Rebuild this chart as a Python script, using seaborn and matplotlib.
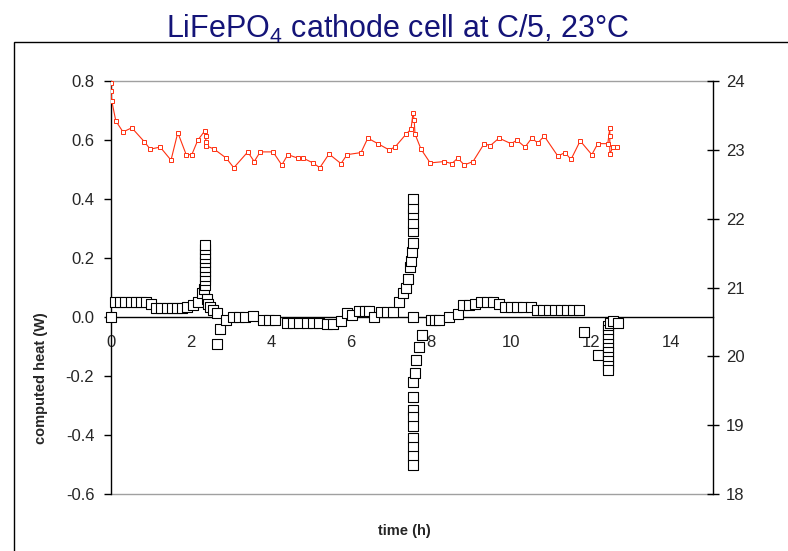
import matplotlib
matplotlib.use("Agg")
import matplotlib.pyplot as plt
import seaborn as sns
import numpy as np
from matplotlib.patches import Rectangle

# ---------------- data ----------------
heat_t = [0.0, 0.1, 0.23, 0.36, 0.49, 0.62, 0.75, 0.88, 1.0, 1.13, 1.26, 1.39, 1.52, 1.65, 1.78, 1.9,
          2.05, 2.17, 2.27,
          2.33, 2.34, 2.34, 2.35, 2.35, 2.35, 2.35, 2.36, 2.36, 2.36, 2.36,
          2.4, 2.43, 2.47, 2.55, 2.65, 2.65, 2.72,
          2.87, 3.05, 3.2, 3.35, 3.55, 3.8, 3.95, 4.1, 4.4, 4.55, 4.7, 4.9, 5.05, 5.2, 5.4, 5.55,
          5.75, 5.9, 6.03, 6.2, 6.35, 6.45, 6.57, 6.75, 6.9, 7.05,
          7.2, 7.3, 7.37, 7.43, 7.48, 7.5, 7.52, 7.55, 7.55, 7.55, 7.55, 7.55,
          7.55,
          7.55, 7.55, 7.55, 7.55, 7.55, 7.55, 7.55, 7.55, 7.55, 7.55,
          7.6, 7.63, 7.7, 7.78,
          8.0, 8.1, 8.2, 8.45, 8.67, 8.8, 8.95, 9.1, 9.25, 9.4, 9.55, 9.7,
          9.85, 10.0, 10.15, 10.3, 10.5,
          10.65, 10.8, 10.95, 11.1, 11.25, 11.4, 11.55, 11.7,
          11.83, 12.17,
          12.42, 12.42, 12.42, 12.42, 12.42, 12.42, 12.42, 12.42, 12.42, 12.42, 12.42,
          12.47, 12.55, 12.67]
heat_q = [0.0, 0.05, 0.05, 0.05, 0.05, 0.05, 0.05, 0.05, 0.045, 0.03, 0.03, 0.03, 0.03, 0.03, 0.03, 0.035,
          0.04, 0.05, 0.08,
          0.095, 0.11, 0.125, 0.14, 0.155, 0.17, 0.185, 0.2, 0.215, 0.23, 0.245,
          0.06, 0.045, 0.035, 0.025, 0.015, -0.09, -0.04,
          -0.01, 0.0, 0.0, 0.0, 0.005, -0.01, -0.01, -0.01, -0.02, -0.02, -0.02, -0.02, -0.02, -0.02, -0.025, -0.025,
          -0.015, 0.013, 0.007, 0.02, 0.02, 0.02, 0.0, 0.017, 0.017, 0.017,
          0.05, 0.08, 0.1, 0.13, 0.17, 0.19, 0.22, 0.25, 0.29, 0.32, 0.35, 0.37,
          0.40,
          0.0, -0.22, -0.27, -0.315, -0.34, -0.37, -0.41, -0.44, -0.47, -0.50,
          -0.19, -0.145, -0.10, -0.06,
          -0.01, -0.01, -0.01, 0.0, 0.01, 0.04, 0.04, 0.045, 0.05, 0.05, 0.05, 0.045,
          0.035, 0.035, 0.035, 0.035, 0.035,
          0.025, 0.025, 0.025, 0.025, 0.025, 0.025, 0.025, 0.025,
          -0.05, -0.13,
          -0.03, -0.045, -0.06, -0.075, -0.09, -0.105, -0.12, -0.135, -0.15, -0.165, -0.18,
          -0.02, -0.015, -0.02]

temp_t = [0.0, 0.0, 0.02, 0.12, 0.3, 0.52, 0.83, 0.98, 1.23, 1.5, 1.67, 1.88, 2.02, 2.17,
          2.35, 2.37, 2.37, 2.38, 2.58, 2.88, 3.07, 3.42, 3.58, 3.73, 4.05, 4.27, 4.42, 4.67, 4.8,
          5.05, 5.22, 5.45, 5.75, 5.9, 6.25, 6.42, 6.67, 6.95, 7.1, 7.38, 7.5, 7.55, 7.58, 7.6,
          7.75, 7.98, 8.33, 8.52, 8.67, 8.83, 9.05, 9.33, 9.48, 9.7, 10.0, 10.15, 10.35, 10.52,
          10.67, 10.83, 11.17, 11.35, 11.5, 11.73, 12.02, 12.17, 12.42, 12.47, 12.47, 12.47,
          12.55, 12.65]
temp_T = [23.97, 23.85, 23.71, 23.42, 23.26, 23.32, 23.12, 23.01, 23.04, 22.85, 23.25, 22.93, 22.93, 23.14,
          23.28, 23.2, 23.12, 23.06, 23.01, 22.88, 22.74, 22.97, 22.83, 22.97, 22.97, 22.78, 22.93, 22.88, 22.88,
          22.81, 22.74, 22.94, 22.8, 22.93, 22.96, 23.17, 23.09, 23.0, 23.04, 23.23, 23.3, 23.54, 23.43, 23.23,
          23.01, 22.81, 22.83, 22.8, 22.88, 22.78, 22.83, 23.09, 23.06, 23.17, 23.09, 23.14, 23.04, 23.17,
          23.1, 23.2, 22.91, 22.96, 22.86, 23.13, 22.93, 23.09, 23.09, 23.32, 23.2, 22.94,
          23.04, 23.04]

x_ticks = [0, 2, 4, 6, 8, 10, 12, 14]
left_ticks = [-0.6, -0.4, -0.2, 0.0, 0.2, 0.4, 0.6, 0.8]
right_ticks = [18, 19, 20, 21, 22, 23, 24]

title = "LiFePO$_\\mathregular{4}$ cathode cell at C/5, 23°C"
xlabel = "time (h)"
ylabel = "computed heat (W)"

# ---------------- style ----------------
sns.set_theme(style="white")
plt.rcParams["font.family"] = ["Liberation Sans", "DejaVu Sans"]
plt.rcParams["mathtext.fontset"] = "custom"
plt.rcParams["mathtext.rm"] = "Liberation Sans"

W, H = 788, 551
fig = plt.figure(figsize=(W / 100, H / 100), dpi=100)
fig.patch.set_facecolor("white")

# outer frame
fig.patches.append(Rectangle((14 / W, -0.1), 1.2, (H - 42) / H + 0.1, transform=fig.transFigure,
                             fill=False, edgecolor="black", linewidth=1.0))

ax = fig.add_axes([111 / W, 57 / H, 602 / W, 413 / H])
ax.set_facecolor("none")
ax.set_xlim(0, 15.05)
ax.set_ylim(-0.6, 0.8)

for s in ["top", "right"]:
    ax.spines[s].set_visible(False)
ax.spines["bottom"].set_position(("data", 0))
ax.spines["bottom"].set_color("black")
ax.spines["bottom"].set_linewidth(1.0)
ax.spines["left"].set_color("black")
ax.spines["left"].set_linewidth(1.0)
ax.axhline(0.8, color="#a0a0a0", lw=1.0, clip_on=False, zorder=0)
ax.axhline(-0.6, color="#a0a0a0", lw=1.0, clip_on=False, zorder=0)

ax.set_xticks(x_ticks)
ax.set_xticklabels([str(v) for v in x_ticks])
ax.set_yticks(left_ticks)
ax.set_yticklabels([f"{v:.1f}" for v in left_ticks])
ax.tick_params(axis="x", direction="out", length=5, width=1, color="black", labelsize=12, pad=8)
ax.tick_params(axis="y", direction="out", length=5, width=1, color="black", labelsize=12, pad=7)

sns.scatterplot(x=heat_t, y=heat_q, ax=ax, marker="s", s=42, facecolor="white",
                edgecolor="black", linewidth=0.8, zorder=3, legend=False, clip_on=False)

ax.set_xlabel(xlabel, fontsize=10.5, fontweight="bold")
ax.set_ylabel(ylabel, fontsize=10.5, fontweight="bold")
ax.xaxis.set_label_coords(0.488, -0.073)
ax.yaxis.set_label_coords(-0.105, 0.28)

ax2 = ax.twinx()
ax2.set_ylim(18, 24)
for s in ["top", "left", "bottom"]:
    ax2.spines[s].set_visible(False)
ax2.spines["right"].set_color("black")
ax2.spines["right"].set_linewidth(1.0)
ax2.set_yticks(right_ticks)
ax2.set_yticklabels([str(v) for v in right_ticks])
ax2.tick_params(axis="y", direction="inout", length=9, width=1, color="black", labelsize=12, pad=5)

sns.lineplot(x=temp_t, y=temp_T, ax=ax2, sort=False, estimator=None, color="#ff3010",
             linewidth=0.8, marker="s", markersize=3, markerfacecolor="white",
             markeredgecolor="#ff3010", markeredgewidth=0.7, legend=False)
ax2.set_ylabel("")
ax2.grid(False)
ax.grid(False)

fig.text(398 / W, 1 - 29 / H, title, ha="center", va="center", fontsize=22, color="#141478")

fig.savefig("out.png", dpi=100)
